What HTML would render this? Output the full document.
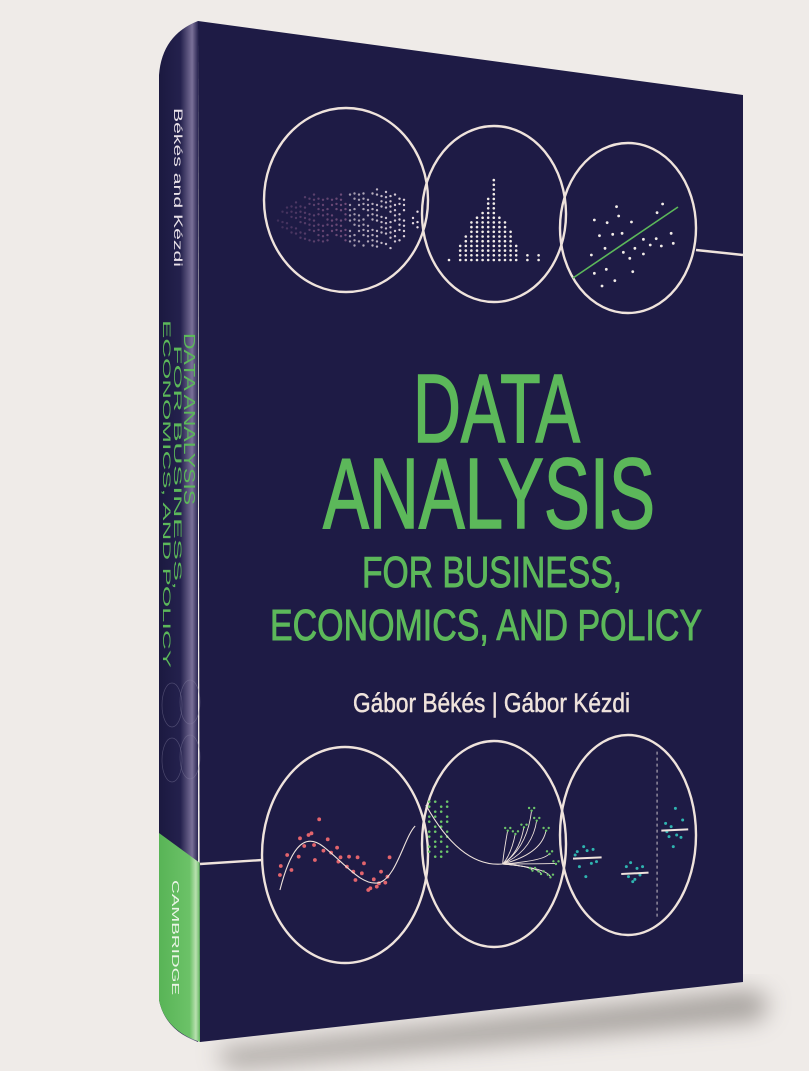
<!DOCTYPE html>
<html><head><meta charset="utf-8"><style>
html,body{margin:0;padding:0;background:#efebe8;}
svg{display:block}
</style></head><body>
<svg id="cv" width="809" height="1071" viewBox="0 0 809 1071" xmlns="http://www.w3.org/2000/svg">
<defs>
<filter id="blur" x="-20%" y="-20%" width="140%" height="140%"><feGaussianBlur stdDeviation="12"/></filter>
<linearGradient id="spineG" x1="0" x2="1" y1="0" y2="0">
<stop offset="0" stop-color="#1b1940"/><stop offset="0.55" stop-color="#24214d"/><stop offset="0.85" stop-color="#7a7098"/><stop offset="1" stop-color="#2a2652"/>
</linearGradient>
<linearGradient id="greenG" x1="0" x2="1" y1="0" y2="0">
<stop offset="0" stop-color="#58b456"/><stop offset="0.75" stop-color="#6cc268"/><stop offset="0.9" stop-color="#b9e0b0"/><stop offset="1" stop-color="#62b85e"/>
</linearGradient>
</defs>
<rect width="809" height="1071" fill="#efebe8"/>
<polygon points="215,1050 750,990 770,1000 760,1020 230,1068" fill="#6b6560" opacity="0.55" filter="url(#blur)"/>
<path d="M159,75 Q162,35 198,21 L198,1042 Q165,1030 159,1000 Z" fill="url(#spineG)"/>
<path d="M159,833 L200,863 L200,1042 Q165,1030 159,1000 Z" fill="url(#greenG)"/>
<polygon points="198,21 743,95 743,982 200,1042" fill="#1e1b45"/>
<g id="marks"></g>
<g fill="#5cb85a" stroke="#5cb85a" stroke-width="1.6" font-family="'Liberation Sans', 'DejaVu Sans', sans-serif">
<text x="413" y="442" font-size="97" textLength="167" lengthAdjust="spacingAndGlyphs">DATA</text>
<text x="323" y="528" font-size="100" textLength="332" lengthAdjust="spacingAndGlyphs">ANALYSIS</text>
<text x="362" y="587" font-size="44" stroke-width="0.9" textLength="260" lengthAdjust="spacingAndGlyphs">FOR BUSINESS,</text>
<text x="270" y="640" font-size="44" stroke-width="0.9" textLength="432" lengthAdjust="spacingAndGlyphs">ECONOMICS, AND POLICY</text>
</g>
<text x="353" y="712" font-size="27" fill="#efe3dc" stroke="#efe3dc" stroke-width="0.5" font-family="'Liberation Sans', sans-serif" textLength="277" lengthAdjust="spacingAndGlyphs">Gábor Békés | Gábor Kézdi</text>
<g font-family="'Liberation Sans', sans-serif">
<text transform="translate(174,108) rotate(90)" font-size="12" fill="#e8e0e8" textLength="159" lengthAdjust="spacingAndGlyphs">Békés and Kézdi</text>
<text transform="translate(184,333) rotate(90)" font-size="16" fill="#5cb85a" textLength="172" lengthAdjust="spacingAndGlyphs">DATA ANALYSIS</text>
<text transform="translate(174,345) rotate(90)" font-size="11" fill="#5cb85a" textLength="245" lengthAdjust="spacingAndGlyphs">FOR BUSINESS,</text>
<text transform="translate(163,320) rotate(90)" font-size="11" fill="#5cb85a" textLength="348" lengthAdjust="spacingAndGlyphs">ECONOMICS, AND POLICY</text>
<text transform="translate(172,880) rotate(90)" font-size="10" fill="#eaf5e6" textLength="115" lengthAdjust="spacingAndGlyphs">CAMBRIDGE</text>
</g>
</svg>
<script>
// ---- data ----
const topCircles=[[346,200,82,92],[494,214,72,88],[628,228,68,85]];
const botCircles=[[345,855,83,108],[494,844,72,103],[628,835,68,100]];
const cloudCols=[2,4,5,6,7,8,9,9,10,9,10,9,8,9,10,9,10,11,10,11,10,11,12,10,11,12,10,9,8,0,3,4];
const histCounts=[1,0,4,6,9,10,11,14,18,10,9,7,4,0,2,0,2];
const scatX=[1117,1225,1212,1065,1095,1122,1152,1077,1108,1130,1180,1210,1245,1196,1222,1250,1058,1090,1133,1160,1180,1148,1065,1093,1155,1083,1113];
const scatY=[620,612,638,660,668,648,666,707,703,700,718,716,700,735,738,730,765,745,757,745,762,775,820,808,815,858,842];
const redX=[420,375,395,402,385,345,372,410,430,440,448,462,470,465,485,490,510,500,520,525,548,560,540,535,565,585,580,330,328,355,408,505,555,575];
const redY=[298,355,345,340,378,405,410,420,392,358,398,383,412,425,440,410,412,455,460,430,478,490,505,510,455,412,470,438,465,450,375,480,500,488];
const tealX=[1025,1040,1048,1062,1030,1070,1045,1020,1058,1140,1150,1165,1178,1145,1160,1172,1155,1232,1245,1258,1272,1255,1240,1268,1250,1235];
const tealY=[395,380,392,388,440,425,470,405,430,440,428,445,440,470,478,465,485,310,320,345,300,265,350,352,380,335];
// ---- helpers ----
const NS='http://www.w3.org/2000/svg';
const g=document.getElementById('marks');
function el(t,a){const e=document.createElementNS(NS,t);for(const k in a)e.setAttribute(k,a[k]);g.appendChild(e);return e;}
const xT=z=>140+z/2.344, yT=z=>z/3, xB=z=>140+z/2.344, yB=z=>720+z/3;
topCircles.forEach(c=>{const e=el('ellipse',{cx:c[0],cy:c[1],rx:c[2],ry:c[3],fill:'none',stroke:'#efe3dc','stroke-width':2.4});

});
botCircles.forEach(c=>{const e=el('ellipse',{cx:c[0],cy:c[1],rx:c[2],ry:c[3],fill:'none',stroke:'#efe3dc','stroke-width':2.4});

});
let l1=el('line',{x1:696,y1:250,x2:743,y2:255,stroke:'#efe3dc','stroke-width':2.4});


let l2=el('line',{x1:200,y1:864,x2:262,y2:860,stroke:'#efe3dc','stroke-width':2.4});


cloudCols.forEach((n,i)=>{const x=278+i*4.5;const a=0.25+0.75*i/cloudCols.length;
for(let j=0;j<n;j++){if((i*7+j*3)%5===0)continue;const y=218-(n-1)*2.6+j*5.2+((i%2)?1.5:0);
const d=el('circle',{cx:x,cy:y,r:1.2,fill:i<16?'#a8709e':'#efe3ea','fill-opacity':a});

}});
histCounts.forEach((n,i)=>{for(let j=0;j<n;j++){const d=el('circle',{cx:449+i*5.6,cy:260-j*4.7,r:1.3,fill:'#f2ece8'});

}});
scatX.forEach((x,i)=>{const d=el('circle',{cx:xT(x),cy:yT(scatY[i]),r:1.4,fill:'#f2ece8'});

});
let rl=el('line',{x1:573,y1:278,x2:678,y2:207,stroke:'#5cb85a','stroke-width':1.6});


redX.forEach((x,i)=>{const d=el('circle',{cx:xB(x),cy:yB(redY[i]),r:1.9,fill:'#e3646c'});

});
let sc=el('path',{d:`M${xB(328)},${yB(510)} C${xB(350)},${yB(400)} ${xB(380)},${yB(330)} ${xB(430)},${yB(380)} S${xB(520)},${yB(500)} ${xB(560)},${yB(488)} S${xB(620)},${yB(350)} ${xB(645)},${yB(318)}`,fill:'none',stroke:'#efe3dc','stroke-width':1.1});


for(let i=0;i<4;i++)for(let j=0;j<12;j++){if((i+j)%3===2)continue;const d=el('circle',{cx:xB(678+i*14),cy:yB(245+j*15),r:1.3,fill:'#6cc46a'});

}
let tc=el('path',{d:`M${xB(670)},${yB(255)} C${xB(720)},${yB(370)} ${xB(780)},${yB(440)} ${xB(850)},${yB(432)}`,fill:'none',stroke:'#efe3dc','stroke-width':1.1});


const tipsX=[862,880,900,918,930,952,960,975,962,940,920];
const tipsY=[330,340,320,270,300,330,400,430,470,460,450];
tipsX.forEach((x,i)=>{const b=el('path',{d:`M${xB(850)},${yB(432)} Q${xB(x-10)},${yB(432-(432-tipsY[i])*0.3)} ${xB(x)},${yB(tipsY[i])}`,fill:'none',stroke:'#efe3dc','stroke-width':0.9});


for(let k=0;k<3;k++){const d=el('circle',{cx:xB(x-6+k*6),cy:yB(tipsY[i]-6+(k%2)*8),r:1.2,fill:'#6cc46a'});

}});
tealX.forEach((x,i)=>{const d=el('circle',{cx:xB(x),cy:yB(tealY[i]),r:1.5,fill:'#2fb4b0'});

});
[[1015,1082,414],[1128,1192,460],[1222,1285,330]].forEach(s=>{const m=el('line',{x1:xB(s[0]),y1:yB(s[2]+2),x2:xB(s[1]),y2:yB(s[2]-2),stroke:'#efe3dc','stroke-width':2});

});
let dv=el('line',{x1:xB(1212),y1:yB(95),x2:xB(1212),y2:yB(590),stroke:'#c9c0c8','stroke-width':1,'stroke-dasharray':'3,3'});


[[172,705],[190,702],[172,760],[190,757]].forEach(c=>{const e=el('ellipse',{cx:c[0],cy:c[1],rx:10,ry:22,fill:'none',stroke:'#8c86a8','stroke-width':0.7,'stroke-opacity':0.4});

});
</script>
</body></html>
